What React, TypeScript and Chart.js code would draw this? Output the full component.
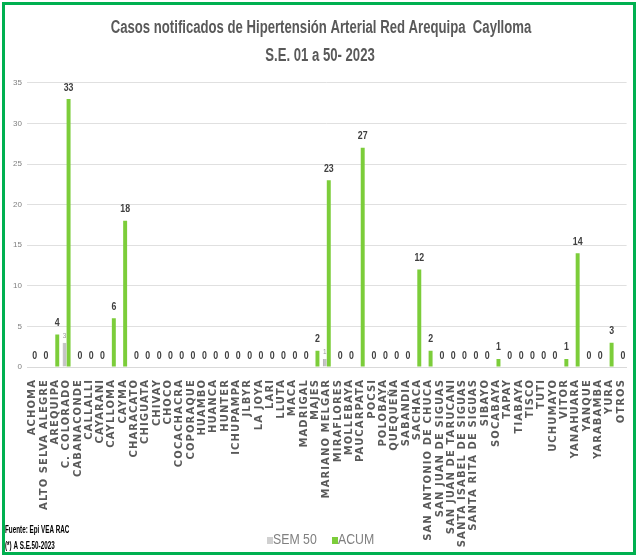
import React, { useEffect, useRef } from "react";
import { Chart, registerables, CategoryScale } from "chart.js";

Chart.register(...registerables);

class SpacedCategory extends CategoryScale {
  static id = "spacedCategory";
  drawLabels(area: any) {
    const ctx: any = this.ctx;
    ctx.save();
    ctx.letterSpacing = "1.1px";
    super.drawLabels(area);
    ctx.restore();
  }
}
Chart.register(SpacedCategory as any);

const TITLE_LINES = [
  "Casos notificados de Hipertensión Arterial Red Arequipa  Caylloma",
  "S.E. 01 a 50- 2023",
];

const categories = [
  "ACHOMA", "ALTO SELVA ALEGRE", "AREQUIPA", "C. COLORADO", "CABANACONDE",
  "CALLALLI", "CAYARANI", "CAYLLOMA", "CAYMA", "CHARACATO", "CHIGUATA",
  "CHIVAY", "CHOCO", "COCACHACRA", "COPORAQUE", "HUAMBO", "HUANCA", "HUNTER",
  "ICHUPAMPA", "JLBYR", "LA JOYA", "LARI", "LLUTA", "MACA", "MADRIGAL",
  "MAJES", "MARIANO MELGAR", "MIRAFLORES", "MOLLEBAYA", "PAUCARPATA", "POCSI",
  "POLOBAYA", "QUEQUEÑA", "SABANDIA", "SACHACA", "SAN ANTONIO DE CHUCA",
  "SAN JUAN DE SIGUAS", "SAN JUAN DE TARUCANI", "SANTA ISABEL DE SIGUAS",
  "SANTA RITA DE SIGUAS", "SIBAYO", "SOCABAYA", "TAPAY", "TIABAYA", "TISCO",
  "TUTI", "UCHUMAYO", "VITOR", "YANAHUARA", "YANQUE", "YARABAMBA", "YURA",
  "OTROS",
];

const sem50 = [
  0, 0, 0, 3, 0,
  0, 0, 0, 0, 0, 0,
  0, 0, 0, 0, 0, 0, 0,
  0, 0, 0, 0, 0, 0, 0,
  0, 1, 0, 0, 0, 0,
  0, 0, 0, 0, 0,
  0, 0, 0,
  0, 0, 0, 0, 0, 0,
  0, 0, 0, 0, 0, 0, 0,
  0,
];

const acum = [
  0, 0, 4, 33, 0,
  0, 0, 6, 18, 0, 0,
  0, 0, 0, 0, 0, 0, 0,
  0, 0, 0, 0, 0, 0, 0,
  2, 23, 0, 0, 27, 0,
  0, 0, 0, 12, 2,
  0, 0, 0,
  0, 0, 1, 0, 0, 0,
  0, 0, 1, 14, 0, 0, 3,
  0,
];

const yTicks = [0, 5, 10, 15, 20, 25, 30, 35];

const legendLabels = ["SEM 50", "ACUM"];
const footnotes = ["Fuente: Epi VEA RAC", "(*) A S.E.50-2023"];

const SANS = "'Liberation Sans', Arial, sans-serif";
const NARROW_X = 0.8;
const GREEN = "#7ccd3a";
const GRAY = "#c4c4c4";

function drawNarrow(ctx: any, text: string, x: number, y: number, sx: number, align: string) {
  ctx.save();
  ctx.translate(x, y);
  ctx.scale(sx, 1);
  ctx.textAlign = align;
  ctx.fillText(text, 0, 0);
  ctx.restore();
}

export default function App() {
  const ref = useRef<HTMLCanvasElement | null>(null);

  useEffect(() => {
    if (!ref.current) return;

    const labelPlugin = {
      id: "valueLabels",
      afterDatasetsDraw(chart: any) {
        const ctx = chart.ctx;
        ctx.save();
        ctx.textBaseline = "bottom";
        const m0 = chart.getDatasetMeta(0);
        ctx.font = `8px ${SANS}`;
        ctx.fillStyle = "#999999";
        m0.data.forEach((el: any, i: number) => {
          const v = sem50[i];
          if (v > 0) drawNarrow(ctx, String(v), el.x, el.y - 3, NARROW_X, "center");
        });
        const m1 = chart.getDatasetMeta(1);
        ctx.font = `bold 11px ${SANS}`;
        ctx.fillStyle = "#404040";
        m1.data.forEach((el: any, i: number) => {
          drawNarrow(ctx, String(acum[i]), el.x, el.y - 6, NARROW_X, "center");
        });
        ctx.restore();
      },
      afterDraw(chart: any) {
        const ctx = chart.ctx;
        ctx.save();
        // title
        ctx.textBaseline = "middle";
        ctx.fillStyle = "#595959";
        ctx.font = `bold 18px ${SANS}`;
        drawNarrow(ctx, TITLE_LINES[0], 321, 28, 0.73, "center");
        drawNarrow(ctx, TITLE_LINES[1], 320, 56, 0.73, "center");
        // legend
        ctx.font = `15px ${SANS}`;
        const ly = 540;
        ctx.fillStyle = "#d0d0d0";
        ctx.fillRect(267, ly - 3, 6, 7);
        ctx.fillStyle = "#808080";
        drawNarrow(ctx, legendLabels[0], 273, ly, 0.82, "left");
        ctx.fillStyle = GREEN;
        ctx.fillRect(332, ly - 3, 6, 7);
        ctx.fillStyle = "#808080";
        drawNarrow(ctx, legendLabels[1], 338, ly, 0.82, "left");
        // footnotes
        ctx.fillStyle = "#000000";
        ctx.font = `bold 10.5px ${SANS}`;
        drawNarrow(ctx, footnotes[0], 5, 530, 0.6, "left");
        drawNarrow(ctx, footnotes[1], 5, 546, 0.6, "left");
        ctx.restore();
      },
    };

    const chart = new Chart(ref.current, {
      type: "bar",
      data: {
        labels: categories,
        datasets: [
          {
            label: legendLabels[0],
            data: sem50,
            backgroundColor: GRAY,
            borderColor: "#a8a8a8",
            borderWidth: { left: 1, right: 0, top: 0, bottom: 0 },
            categoryPercentage: 0.7,
            barPercentage: 1.0,
          },
          {
            label: legendLabels[1],
            data: acum,
            backgroundColor: GREEN,
            borderWidth: 0,
            categoryPercentage: 0.7,
            barPercentage: 1.0,
          },
        ],
      },
      options: {
        animation: false,
        responsive: false,
        maintainAspectRatio: false,
        layout: { padding: { left: 2, right: 7, top: 8, bottom: 0 } },
        plugins: {
          legend: { display: false },
          tooltip: { enabled: false },
          title: {
            display: true,
            text: TITLE_LINES,
            color: "rgba(0,0,0,0)",
            font: { family: SANS, size: 18, weight: "bold", lineHeight: 1.55 },
            padding: { top: 5, bottom: 14 },
          },
        },
        scales: {
          x: {
            type: "spacedCategory" as any,
            grid: { display: false },
            border: { display: true, color: "#d9d9d9" },
            ticks: {
              autoSkip: false,
              minRotation: 90,
              maxRotation: 90,
              padding: 4,
              color: "#595959",
              font: { family: "'DejaVu Sans', sans-serif", size: 10, weight: "bold" },
            },
            afterFit: (s: any) => {
              s.height = 189;
            },
          },
          y: {
            min: 0,
            max: 35,
            afterBuildTicks: (s: any) => {
              s.ticks = yTicks.map((v) => ({ value: v }));
            },
            grid: { color: "#e0e0e0", drawTicks: false },
            border: { display: false },
            ticks: {
              padding: 5,
              color: "#7f7f7f",
              font: { family: SANS, size: 8 },
            },
            afterFit: (s: any) => {
              s.width = 25;
            },
          },
        },
      },
      plugins: [labelPlugin],
    } as any);

    return () => chart.destroy();
  }, []);

  return (
    <div style={{ position: "fixed", left: 0, top: 0, width: 637, height: 556, background: "#fff" }}>
      <div
        style={{
          position: "absolute",
          left: 2,
          top: 2,
          width: 634,
          height: 553,
          boxSizing: "border-box",
          border: "3px solid #00b050",
        }}
      />
      <canvas
        ref={ref}
        width={637}
        height={556}
        style={{ position: "absolute", left: 0, top: 0, width: 637, height: 556 }}
      />
    </div>
  );
}
